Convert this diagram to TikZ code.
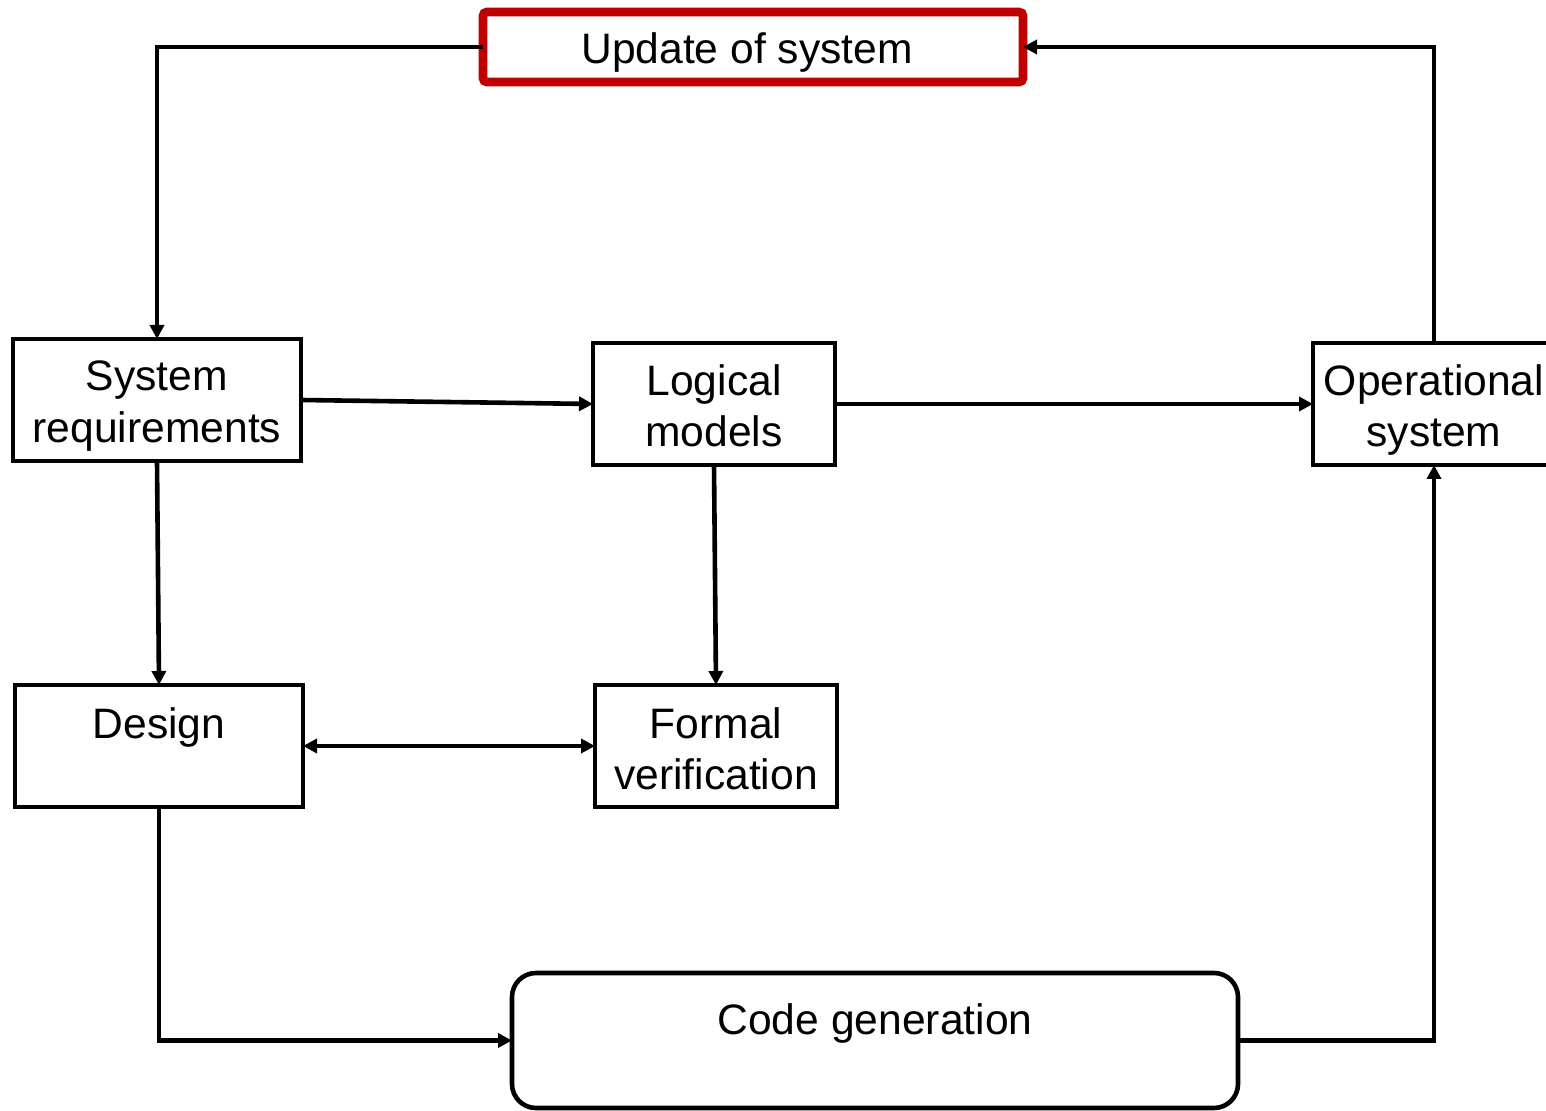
\documentclass[tikz,border=0pt]{standalone}
\usepackage{fontspec}
\setmainfont{Liberation Sans}
\usetikzlibrary{arrows.meta}
\definecolor{boxred}{RGB}{192,0,0}
\begin{document}
\begin{tikzpicture}[x=0.5pt,y=-0.5pt,
  font=\fontsize{21.3}{25.7}\selectfont,
  boxnode/.style={draw=black,line width=2.3pt,fill=white,rectangle,outer sep=0pt,inner sep=0pt,align=center},
  txt/.style={inner sep=0pt,align=center},
  conn/.style={line width=2.3pt,-{Triangle[length=7pt,width=7pt]}},
  bothconn/.style={line width=2.3pt,{Triangle[length=7pt,width=7pt]}-{Triangle[length=7pt,width=7pt]}}]
\useasboundingbox (0,0) rectangle (1546,1111);
\begin{scope}
\clip (0,0) rectangle (1546,1111);
% boxes
\node[boxnode,draw=boxred,line width=4.4pt,rounded corners=2pt,minimum width=270pt,minimum height=35pt] (upd) at (753,47) {};
\node[txt] (updtxt) at (747,52) {Update of system};
\node[boxnode,minimum width=144pt,minimum height=61pt] (sysreq) at (157,400) {};
\node[txt] (sysreqtxt) at (157,406) {System\\requirements};
\node[boxnode,minimum width=121pt,minimum height=61pt] (logical) at (714,404) {};
\node[txt] (logicaltxt) at (714,405.5) {Logical\\models};
\node[boxnode,minimum width=121pt,minimum height=61pt] (ops) at (1434,404) {};
\node[txt] (opstxt) at (1434,410) {Operational\\system};
\node[boxnode,minimum width=144pt,minimum height=61pt] (design) at (159,746) {};
\node[txt] (designtxt) at (159,727) {Design};
\node[boxnode,minimum width=121pt,minimum height=61pt] (formal) at (716,746) {};
\node[txt] (formaltxt) at (716,748.5) {Formal\\verification};
\node[boxnode,rounded corners=12pt,minimum width=363pt,minimum height=67.5pt] (code) at (875,1040.5) {};
\node[txt] (codetxt) at (875,1023) {Code generation};
% connectors
\draw[conn] (upd.west) -| (sysreq.north);
\draw[conn] (ops.north) |- (upd.east);
\draw[conn] (sysreq.east) -- (logical.west);
\draw[conn] (logical.east) -- (ops.west);
\draw[conn] (sysreq.south) -- (design.north);
\draw[conn] (logical.south) -- (formal.north);
\draw[bothconn] (design.east) -- (formal.west);
\draw[conn] (design.south) |- (code.west);
\draw[conn] (code.east) -| (ops.south);
\end{scope}
\end{tikzpicture}
\end{document}
